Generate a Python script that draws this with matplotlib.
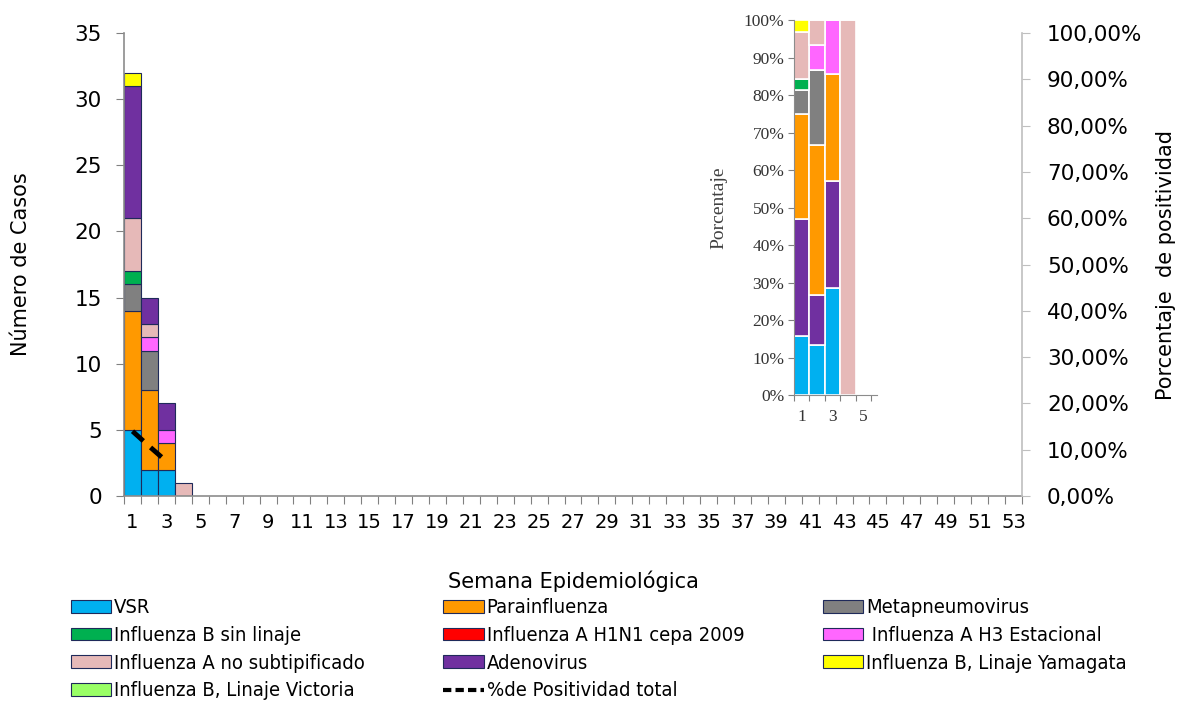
import numpy as np
import matplotlib.pyplot as plt
from matplotlib.patches import Patch
from matplotlib.lines import Line2D

# Casos por semana epidemiológica (semanas 1-53)
semanas = np.arange(1, 54)
n = len(semanas)

def serie(valores):
    out = np.zeros(n)
    out[:len(valores)] = valores
    return out

vsr = serie([5, 2, 2, 0])
parainfluenza = serie([9, 6, 2, 0])
metapneumovirus = serie([2, 3, 0, 0])
flu_b_sin_linaje = serie([1, 0, 0, 0])
flu_a_h1n1 = serie([0, 0, 0, 0])
flu_a_h3 = serie([0, 1, 1, 0])
flu_a_no_subtip = serie([4, 1, 0, 1])
adenovirus = serie([10, 2, 2, 0])
flu_b_yamagata = serie([1, 0, 0, 0])
flu_b_victoria = serie([0, 0, 0, 0])

# % de positividad total (semanas 1-3)
semanas_pos = [1, 2, 3]
positividad = [14.0, 10.7, 7.5]

colores = {
    'VSR': '#00B0F0',
    'Parainfluenza': '#FF9900',
    'Metapneumovirus': '#808080',
    'Influenza B sin linaje': '#00B050',
    'Influenza A H1N1 cepa 2009': '#FF0000',
    ' Influenza A H3 Estacional': '#FF66FF',
    'Influenza A no subtipificado': '#E6B9B8',
    'Adenovirus': '#7030A0',
    'Influenza B, Linaje Yamagata': '#FFFF00',
    'Influenza B, Linaje Victoria': '#99FF66',
}

# orden de apilado en el gráfico principal
pila = [
    ('VSR', vsr),
    ('Parainfluenza', parainfluenza),
    ('Metapneumovirus', metapneumovirus),
    ('Influenza B sin linaje', flu_b_sin_linaje),
    ('Influenza A H1N1 cepa 2009', flu_a_h1n1),
    (' Influenza A H3 Estacional', flu_a_h3),
    ('Influenza A no subtipificado', flu_a_no_subtip),
    ('Adenovirus', adenovirus),
    ('Influenza B, Linaje Yamagata', flu_b_yamagata),
    ('Influenza B, Linaje Victoria', flu_b_victoria),
]

fig = plt.figure(figsize=(11.79, 7.02), dpi=100)
ax = fig.add_axes([0.1052, 0.2934, 0.7616, 0.6596])

base = np.zeros(n)
for nombre, vals in pila:
    m = vals > 0
    ax.bar(semanas[m], vals[m], bottom=base[m], width=1.0,
           color=colores[nombre], edgecolor='#1F2A5A', linewidth=0.8, zorder=2)
    base += vals

ax.set_xlim(0.5, 53.5)
ax.set_ylim(0, 35)
ax.set_yticks(range(0, 36, 5))
ax.set_xticks(np.arange(0.5, 54, 1))
ax.set_xticks(semanas[::2], minor=True)
ax.set_xticklabels([])
ax.set_xticklabels([str(s) for s in semanas[::2]], minor=True)
ax.tick_params(axis='x', which='major', length=6, color='#808080')
ax.tick_params(axis='x', which='minor', length=0, labelsize=14, pad=12)
ax.tick_params(axis='y', length=6, color='#808080', labelsize=15.5, pad=10)
for s in ['top', 'right']:
    ax.spines[s].set_visible(False)
for s in ['left', 'bottom']:
    ax.spines[s].set_color('#8C8C8C')
    ax.spines[s].set_linewidth(1.2)
ax.set_ylabel('Número de Casos', fontsize=15, labelpad=31)
ax.set_xlabel('Semana Epidemiológica', fontsize=15, labelpad=28)

# eje secundario con el porcentaje de positividad
ax2 = ax.twinx()
ax2.plot(semanas_pos, positividad, color='black', linestyle=(0, (3, 2)),
         linewidth=3.5, zorder=3)
ax2.set_ylim(0, 100)
ax2.set_yticks(range(0, 101, 10))
ax2.set_yticklabels([f'{v},00%' for v in range(0, 101, 10)])
ax2.tick_params(axis='y', length=6, color='#BFBFBF', labelsize=15.5, pad=12)
for s in ['top', 'left', 'bottom']:
    ax2.spines[s].set_visible(False)
ax2.spines['right'].set_color('#BFBFBF')
ax2.spines['right'].set_linewidth(1.2)
ax2.set_ylabel('Porcentaje  de positividad', fontsize=15, labelpad=10)

# gráfico insertado: distribución porcentual por semana
axi = fig.add_axes([0.6735, 0.4373, 0.0705, 0.5342])
orden_pct = [
    ('VSR', vsr),
    ('Adenovirus', adenovirus),
    ('Parainfluenza', parainfluenza),
    ('Metapneumovirus', metapneumovirus),
    ('Influenza B sin linaje', flu_b_sin_linaje),
    (' Influenza A H3 Estacional', flu_a_h3),
    ('Influenza A no subtipificado', flu_a_no_subtip),
    ('Influenza B, Linaje Yamagata', flu_b_yamagata),
]
total = sum(v for _, v in pila)
sem_pct = semanas[total > 0]
base_pct = np.zeros(len(sem_pct))
for nombre, vals in orden_pct:
    pct = vals[total > 0] / total[total > 0] * 100
    axi.bar(sem_pct, pct, bottom=base_pct, width=1.0,
            color=colores[nombre], edgecolor='white', linewidth=1.2)
    base_pct += pct
axi.set_xlim(0.5, 5.9)
axi.set_ylim(0, 100)
axi.set_yticks(range(0, 101, 10))
axi.set_yticklabels([f'{v}%' for v in range(0, 101, 10)],
                    family='Liberation Serif', fontsize=12.5, color='#333333')
axi.set_xticks(np.arange(0.5, 6, 1))
axi.set_xticklabels([])
axi.set_xticks([1, 3, 5], minor=True)
axi.set_xticklabels(['1', '3', '5'], minor=True, family='Liberation Serif',
                    fontsize=12.5, color='#333333')
axi.tick_params(axis='x', which='major', length=4, color='#808080')
axi.tick_params(axis='x', which='minor', length=0, pad=10)
axi.tick_params(axis='y', length=4, color='#808080', pad=3)
for s in ['top', 'right']:
    axi.spines[s].set_visible(False)
for s in ['left', 'bottom']:
    axi.spines[s].set_color('#8C8C8C')
axi.set_ylabel('Porcentaje', family='Liberation Serif', fontsize=14,
               color='#404040', labelpad=12)

# leyenda
orden_leyenda = ['VSR', 'Parainfluenza', 'Metapneumovirus',
                 'Influenza B sin linaje', 'Influenza A H1N1 cepa 2009',
                 ' Influenza A H3 Estacional', 'Influenza A no subtipificado',
                 'Adenovirus', 'Influenza B, Linaje Yamagata',
                 'Influenza B, Linaje Victoria']
handles = [Patch(facecolor=colores[k], edgecolor='#1F2A5A', linewidth=0.8, label=k)
           for k in orden_leyenda]
handles.append(Line2D([], [], color='black', linestyle=(0, (2, 1)), linewidth=3,
                      label='%de Positividad total'))
# reorganizar para llenar por filas en 3 columnas
filas = [handles[i:i + 3] for i in range(0, len(handles), 3)]
cols = [[f[c] for f in filas if c < len(f)] for c in range(3)]
orden = [h for col in cols for h in col]
fig.legend(orden, [h.get_label() for h in orden], ncol=3,
           loc='upper left', bbox_to_anchor=(0.053, 0.159),
           frameon=False, prop={'family': 'DejaVu Sans', 'stretch': 'condensed', 'size': 14.5},
           handlelength=2.0, handleheight=0.6, handletextpad=0.15,
           columnspacing=3.9, labelspacing=0.43, borderaxespad=0)

fig.savefig('out.png', dpi=100)
